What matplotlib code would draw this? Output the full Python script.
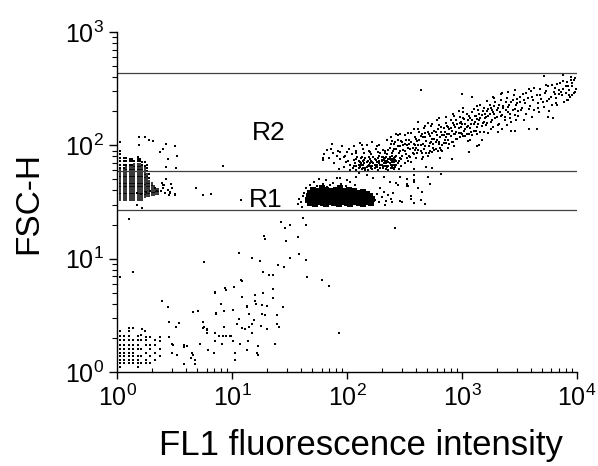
import numpy as np
import matplotlib
matplotlib.use("Agg")
import matplotlib.pyplot as plt
from matplotlib.ticker import LogLocator, LogFormatterMathtext, NullFormatter

# =============================
# DATA (log10 units x 100: "lx,ly")
# =============================

# left population, quantised channels -> vertical stripes
stripe_x = [3, 6, 8, 11, 13, 15, 18, 20, 22, 24, 26, 28, 30, 32, 34, 36]
stripe_y = [
    "153 156 159 162 165 168 171 174 177",
    "153 156 159 162 165 168 171 174 177",
    "153 156 159 162 165 168 171 174 177 180",
    "153 156 159 162 165 168 171 174 177 180",
    "153 156 159 162 165 168 171 174 177 180",
    "153 156 159 162 165 168 171 174 177 180 183",
    "153 156 159 162 165 168 171 174 177 180 183",
    "153 156 159 162 165 168 171 174 177 180 183",
    "153 156 159 162 165 168 171 174 177 180",
    "155 158 161 164 167 170 173 176 179",
    "156 159 162 165 168 171 174",
    "156 159 162 165 168",
    "157 160 163 166",
    "157 160 163",
    "158 161",
    "158 161",
]
# dotted tops of the same columns
stripe_top = [
    "180 183 186 189 192 195",
    "180 183 186 189",
    "183 186 189",
    "183 186 188",
    "183 186 188",
    "186",
    "186 188 190",
    "186 188",
    "183 185",
    "182 185",
    "177 180 183",
    "171 175",
    "", "", "", "",
]

left_scatter = """
3,203 19,207 24,207 28,205 31,204 19,200 43,201 50,199 40,197 37,194 52,191
44,188 43,181 51,180 92,182 38,160 40,162 42,158 44,161 46,159 48,162 41,165
45,156 50,157 39,167 43,170 47,166 40,165 46,158 50,156 69,162 75,156 82,157
108,152 17,147 22,145 17,158 21,157 25,159 29,160 33,162 35,160
"""

# bottom-left quantised population (x ~1-2.5, y ~1-2.5)
low_grid = """
3,4 3,8 3,11 3,14 3,17 3,20 3,24 3,28 3,32 3,36
6,8 6,11 6,14 6,17 6,20 6,24 6,28 6,32
10,8 10,11 10,14 10,17 10,20 10,24 10,28 10,32 10,36 10,39
14,8 14,11 14,14 14,17 14,20 14,24 14,28 14,39
18,8 18,11 18,14 18,20 18,24 18,28 18,32 18,4
21,8 21,14 21,20 21,28 21,33 22,38 24,36
25,8 25,11 25,17 25,24 25,28 25,31
29,8 29,14 29,20 29,24 29,31
33,11 33,17 33,24 33,28
37,14 37,20 37,31
"""

# sparse events along the diagonal
diag_sparse = """
162,136 143,132 150,130 146,127 164,130 128,120 129,117 147,116 157,119 106,105
117,101 124,98 76,97 158,104 150,101 164,99 140,94 145,93 127,88 132,86 136,86
165,84 178,81 184,76 108,81 109,80 85,71 94,74 95,72 102,75 127,70 136,73
109,66 136,65 120,68 120,63 121,60 126,59 130,58 144,57 90,60 101,55 113,57
93,54 86,51 115,51 126,51 129,50 139,50 106,47 119,46 104,42 117,42 125,41
139,42 141,40 109,39 111,38 115,40 130,38 93,40 75,44 75,39 78,38 85,34 89,32
95,32 99,32 193,34 10,135 14,88 3,84 39,63 44,57 45,44 51,40 54,43 66,53 70,54
76,40 78,37 85,70 86,52 113,58 37,31 45,31 49,24 58,24 65,17 68,11 72,25 78,34
92,32 98,32 103,11 107,25 113,19 117,34 122,17 123,23 37,27 48,25 61,23 85,27
91,25 101,27 114,27 137,25 123,15 103,17 84,17 79,19 66,15 52,15 48,17 58,22
64,12 68,7 58,7 242,127
"""

# R1 population: solid core + fringe
r1_core = """
168,149 172,148 175,150 179,149 182,148 186,150 189,149 193,148 196,150 200,149
203,148 207,150 210,149 214,148 217,150 221,149
166,152 170,153 173,152 177,151 180,153 184,152 187,151 191,153 194,152 198,151
201,153 205,152 208,151 212,153 215,152 219,151 222,153
167,155 171,156 174,154 178,155 181,156 185,154 188,155 192,156 195,154 199,155
202,156 206,154 209,155 213,156 216,154 220,155
168,158 172,159 175,157 179,158 182,159 186,157 189,158 193,159 196,157 200,158
203,159 207,157 210,158 214,159 217,157
170,161 174,160 178,162 182,161 186,160 190,161 194,162 198,160 202,161 206,160
"""
r1_fringe = """
160,150 162,155 161,146 163,158 158,153 157,148 164,162
168,165 171,168 174,164 176,170 179,166 182,169 185,165 188,167 191,171 177,163
183,163 195,166 199,164 203,168 207,165
224,152 226,157 228,150 230,154 232,159 234,151 236,156 229,162 233,147 238,153
240,158 244,165 248,150 252,170 256,155 262,162 268,148 272,166 246,172 258,174
264,152 270,172 239,150 246,151 256,153 258,149 265,159 253,164 243,167
194,171 200,169 208,172 217,174 223,171 232,172 237,168 252,166 258,169
"""

# R2 population: cluster just above the middle gate
r2_cluster = """
205,180 207,184 208,178 210,186 211,181 212,189 213,179 214,183 215,187 216,180
217,185 218,178 219,190 220,182 221,186 222,179 223,184 224,188 225,181 226,185
227,178 228,191 229,183 230,187 231,180 232,184 233,189 234,179 235,186 236,182
237,188 238,180 239,185 240,183 241,179 242,187 209,190 215,193 221,192 227,194
233,193 239,191 206,187 212,184 218,182 224,180 230,183 236,178 242,181 244,184
245,179 246,189 203,183 201,186
206,182 208,188 210,180 211,185 212,183 213,190 214,180 215,184 216,189 217,181
218,186 219,183 220,188 221,180 222,185 223,190 224,183 225,187 226,181 227,189
228,184 229,180 230,186 231,190 232,182 233,186 234,184 235,181 236,188 237,184
238,187 239,181 240,186 241,189 242,183 243,186 208,182 214,186 220,184 226,183
232,188 238,183 210,183 216,178 222,182 228,186 234,182 240,180
180,192 184,189 186,197 189,184 192,195 194,188 196,199 198,191 200,194 199,185
202,197 204,192 206,199 208,195 211,202 214,197 217,200 219,195 222,203 225,197
228,200 231,196 197,181 193,179 191,191 187,201 183,196 179,187 203,178 210,176
179,189 188,193 194,194 197,190 208,193 213,200 220,194 226,199 235,205 243,210
"""

# R2 diagonal cloud
r2_diagonal = """
235,192 237,198 238,188 240,195 241,201 242,190 243,197 244,205 245,193 246,199
247,188 248,203 249,196 250,209 251,192 252,200 253,186 254,205 255,197 256,211
257,193 258,201 259,207 260,189 236,185 239,204 243,183 246,210 250,184 254,191
258,214 260,198 261,204 262,196 263,212 264,200 265,193 266,207 267,215 268,199
269,204 270,191 271,210 272,202 273,217 274,206 275,198 276,213 277,203 278,209
279,195 280,218 281,207 282,212 283,200 284,215 285,205 286,220 287,210 288,198
289,214 290,208 262,221 266,190 270,220 274,194 278,222 282,196 286,202 290,222
264,208 268,211 272,195 276,206 280,201 284,209 288,216 291,213 292,203 293,218
294,210 295,222 296,206 297,215 298,225 299,211 300,219 301,208 302,223 303,214
304,228 305,217 306,210 307,224 308,219 309,229 310,213 311,221 312,226 313,216
314,231 315,222 316,212 317,227 318,220 319,233 320,224 293,199 297,230 301,229
305,204 309,209 313,235 317,205 293,226 299,221 303,208 321,218 322,230 323,226
324,236 325,221 326,231 327,216 328,228 329,238 330,225 331,233 332,219 333,229
334,240 335,227 336,235 337,222 338,231 339,242 340,229 341,236 342,224 343,238
344,231 345,244 346,227 347,236 348,241 349,230 350,238 323,211 327,243 331,212
335,246 339,218 343,213 347,222 352,233 353,245 355,237 356,228 357,242 359,235
360,248 362,240 363,231 365,244 366,237 368,250 369,241 371,234 372,246 374,239
375,252 377,243 378,236 380,247 354,222 358,250 361,225 367,229 373,253 376,230
379,224 381,251 382,242 384,249 385,255 387,244 388,250 390,246 391,256 393,249
394,243 396,252 397,258 399,250 383,236 389,238 392,240 395,260 398,247
313,199 306,194 291,188 282,175 315,200 335,214 346,213 358,214 365,214 375,225
382,237 264,249 371,261 395,258 397,246 391,240 384,245 281,189 274,180 269,181
258,179 252,164 258,168 300,245 309,243 392,252 388,262 396,244
236,196 237,190 238,201 239,193 240,188 241,197 242,203 243,191 244,199 245,186
246,195 247,204 248,191 249,200 250,195 251,205 252,189 253,198 254,201 255,190
256,203 257,198 258,192 259,200 260,206 261,193 262,200 263,205 264,195 265,210
266,201 267,197 268,207 269,193 270,212 271,199 272,208 273,203 274,211 275,201
276,196 277,212 278,205 279,214 280,203 281,198 282,216 283,209 284,202 285,212
286,207 287,217 288,205 289,210 290,215 291,203 292,220 293,210 294,216 295,206
296,219 297,211 298,220 299,216 300,210 301,224 302,213 303,219 304,210 305,222
306,226 307,215 308,212 309,222 310,219 311,226 312,213 313,223 314,219 315,228
316,224 317,217 318,230 319,221 320,228 321,225 322,220 323,232 324,228 325,233
326,222 327,229 328,235 329,224 330,231 332,236 334,226 336,233 338,238 340,234
342,228 344,240 346,232 348,237 350,243
238,207 241,185 244,209 247,182 250,201 253,211 256,185 259,196 262,214 265,188
268,217 271,193 274,219 277,197 280,224 283,195 286,225 289,201 292,228 295,212
298,207 301,233 304,216 307,205 310,232 313,210 316,236 319,212 322,239 325,214
328,242 331,218 334,245 337,225 340,247 343,221 346,249 349,226
351,231 354,240 356,246 358,232 361,243 363,251 366,233 368,244 370,238 373,248
376,241 378,253 381,245 383,254 386,247 388,257 390,252 393,244 396,255 398,259
228,185 230,190 232,187 233,195 234,190 231,182 229,193
"""

gate_levels = [435, 59.4, 26.9]
region_labels = ["R2", "R1"]
region_pos = [(21.0, 128), (19.5, 33)]


def parse_pairs(text):
    arr = np.array([p.split(",") for p in text.split()], dtype=float) / 100.0
    return 10 ** arr[:, 0], 10 ** arr[:, 1]


def parse_columns(xs, ys):
    px, py = [], []
    for x, col in zip(xs, ys):
        for y in col.split():
            px.append(10 ** (x / 100.0))
            py.append(10 ** (float(y) / 100.0))
    return np.array(px), np.array(py)


# =============================
# PLOT
# =============================

plt.rcParams["font.family"] = ["Liberation Sans", "DejaVu Sans"]
plt.rcParams["mathtext.fontset"] = "custom"
plt.rcParams["mathtext.rm"] = "Liberation Sans"
plt.rcParams["mathtext.it"] = "Liberation Sans:italic"
plt.rcParams["mathtext.bf"] = "Liberation Sans:bold"

fig = plt.figure(figsize=(5.98, 4.66), dpi=100)
ax = fig.add_axes([0.1957, 0.2017, 0.7692, 0.7296])

dot = dict(color="black", linestyle="none", marker="s", ms=1.65, mew=0)

# stripes: thin vertical tick markers stacked along each channel column
sx, sy = parse_columns(stripe_x, stripe_y)
ax.plot(sx, sy, color="black", linestyle="none", marker="|", ms=3.4, mew=1.1)

tx, ty = parse_columns(stripe_x, stripe_top)
ax.plot(tx, ty, **dot)

for block in [left_scatter, low_grid, diag_sparse, r1_fringe, r2_cluster, r2_diagonal]:
    x, y = parse_pairs(block)
    ax.plot(x, y, **dot)

cx, cy = parse_pairs(r1_core)
ax.plot(cx, cy, color="black", linestyle="none", marker="s", ms=4.9, mew=0)

for level in gate_levels:
    ax.axhline(level, color="#404040", lw=0.9)

for label, (x, y) in zip(region_labels, region_pos):
    ax.text(x, y, label, fontsize=19, ha="center", va="center")

ax.set_xscale("log")
ax.set_yscale("log")
ax.set_xlim(1, 1e4)
ax.set_ylim(1, 1e3)

for side in ["top", "right"]:
    ax.spines[side].set_visible(False)
for side in ["left", "bottom"]:
    ax.spines[side].set_linewidth(1.0)

for axis in [ax.xaxis, ax.yaxis]:
    axis.set_major_locator(LogLocator(base=10))
    axis.set_major_formatter(LogFormatterMathtext())
    axis.set_minor_locator(LogLocator(base=10, subs=np.arange(2, 10)))
    axis.set_minor_formatter(NullFormatter())

ax.tick_params(axis="x", which="major", direction="out", length=5, width=1, labelsize=18, pad=4)
ax.tick_params(axis="x", which="minor", direction="in", length=3, width=0.8)
ax.tick_params(axis="y", which="major", direction="out", length=5.5, width=1, labelsize=18, pad=4)
ax.tick_params(axis="y", which="minor", direction="out", length=3.5, width=0.8)

ax.set_xlabel("FL1 fluorescence intensity", fontsize=25, va="center")
ax.xaxis.set_label_coords(0.530, -0.215)
ax.set_ylabel("FSC-H", fontsize=24, va="center")
ax.yaxis.set_label_coords(-0.193, 0.497)

fig.savefig("out.png", dpi=100)
